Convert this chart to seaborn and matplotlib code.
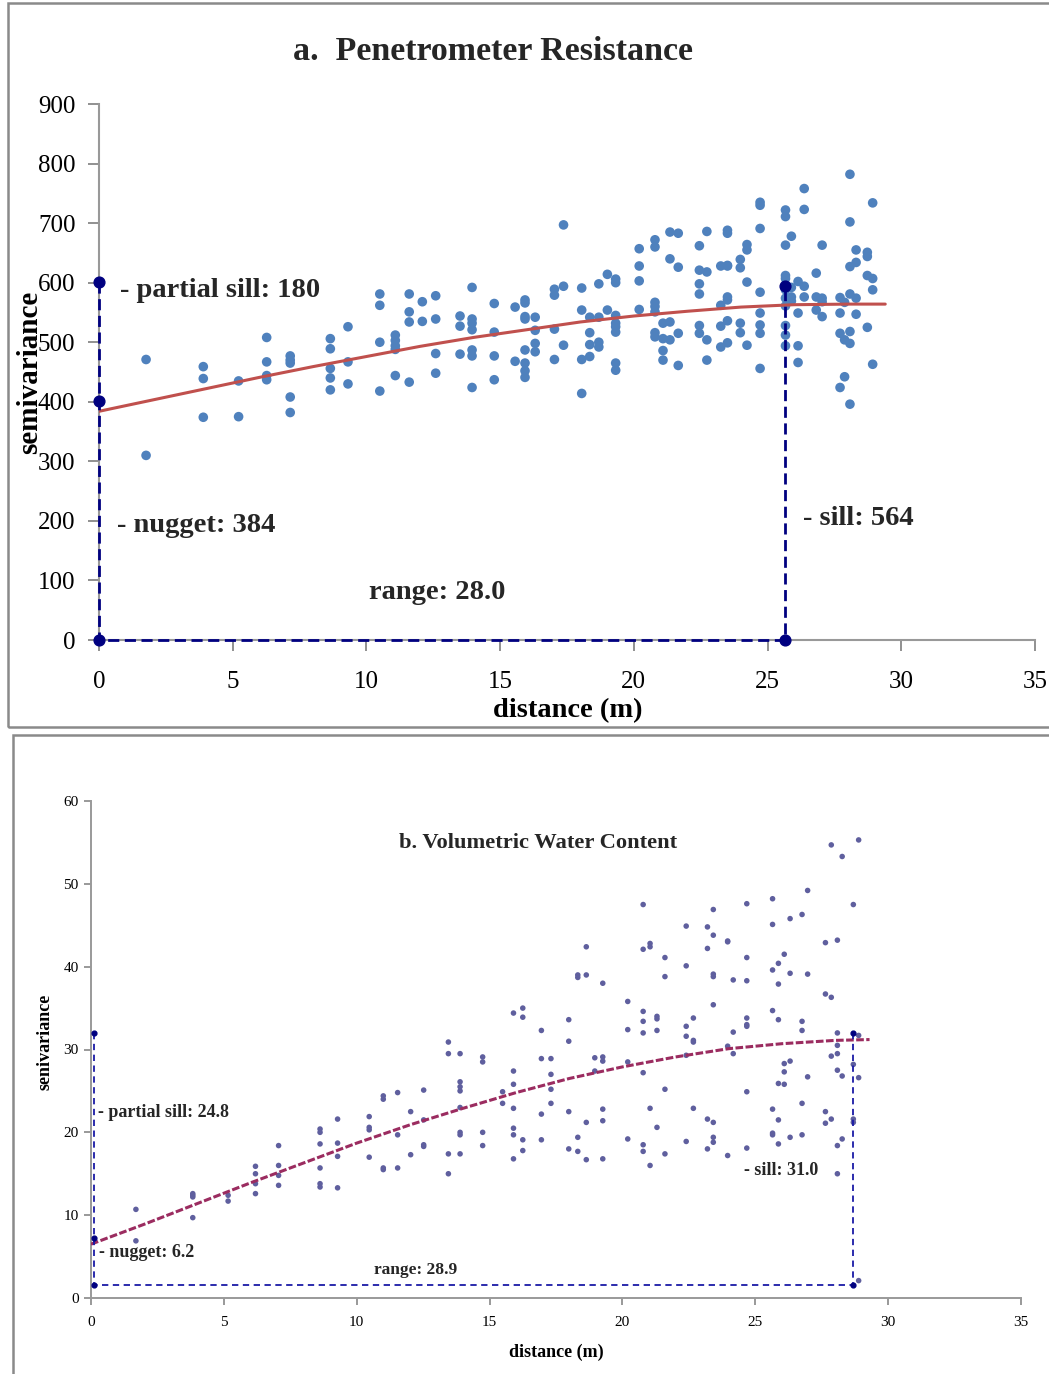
import numpy as np
import pandas as pd
import seaborn as sns
import matplotlib.pyplot as plt
from matplotlib.patches import Rectangle

# ---------------- data: panel a (penetrometer resistance) ----------------
top_lags = [1.76, 3.90, 5.22, 6.27, 7.15, 8.65, 9.31, 10.50, 11.08, 11.60, 12.09, 12.59,
            13.50, 13.95, 14.78, 15.56, 15.93, 16.31, 17.03, 17.37, 18.05, 18.35, 18.69,
            19.01, 19.32, 20.20, 20.79, 21.09, 21.35, 21.66, 22.45, 22.73, 23.25, 23.50,
            23.98, 24.23, 24.72, 25.67, 25.89, 26.14, 26.37, 26.82, 27.04, 27.71, 27.88,
            28.08, 28.31, 28.73, 28.93]
top_values = [
    [471, 310], [459, 439, 374], [435, 375], [508, 467, 444, 437],
    [477, 470, 465, 408, 382], [506, 489, 456, 440, 420], [526, 467, 430],
    [581, 562, 500, 418], [512, 503, 494, 488, 444], [581, 551, 534, 433], [568, 535],
    [578, 539, 481, 448], [544, 527, 480], [592, 539, 532, 521, 487, 477, 424],
    [565, 517, 477, 437], [559, 468], [571, 566, 543, 539, 487, 465, 452, 441],
    [542, 520, 498, 484], [589, 579, 522, 471], [697, 594, 495], [591, 554, 471, 414],
    [542, 516, 496, 476], [598, 542, 500, 492], [614, 554],
    [606, 600, 545, 532, 526, 517, 465, 453], [657, 628, 603, 555],
    [672, 660, 567, 560, 551, 516, 509], [532, 506, 486, 470], [685, 640, 534, 504],
    [683, 626, 515, 461], [662, 621, 598, 581, 528, 515], [686, 618, 504, 470],
    [628, 562, 527, 492], [688, 683, 629, 628, 576, 571, 536, 499], [639, 625, 532, 516],
    [664, 655, 601, 495], [735, 730, 691, 584, 549, 529, 515, 456],
    [722, 711, 663, 612, 607, 588, 574, 561, 528, 512, 494], [678, 592, 576, 569],
    [602, 549, 494, 466], [758, 723, 594, 576], [616, 576, 554], [663, 574, 568, 543],
    [575, 549, 515, 424], [567, 504, 442], [782, 702, 627, 581, 518, 498, 396],
    [655, 634, 574, 547], [651, 644, 612, 525], [734, 607, 588, 463]]
top_model_x = [0, 2, 4, 6, 8, 10, 12, 14, 16, 18, 20, 22, 24, 26, 28, 29.4]
top_model_y = [384, 403, 422, 441, 459, 476, 493, 508, 521, 534, 544, 552, 559, 563, 564, 564]
top_guide_x = [0, 0, 25.65, 25.65]
top_guide_y = [601, 0, 0, 594]
top_mark_x = [0, 0, 0, 25.65, 25.65]
top_mark_y = [601, 401, 0, 0, 594]

# ---------------- data: panel b (volumetric water content) ----------------
bot_lags = [1.69, 3.83, 5.16, 6.19, 7.06, 8.62, 9.28, 10.47, 11.00, 11.54, 12.03, 12.52,
            13.45, 13.89, 14.74, 15.49, 15.90, 16.25, 16.95, 17.31, 17.98, 18.32, 18.64,
            18.96, 19.26, 20.20, 20.78, 21.04, 21.30, 21.60, 22.40, 22.67, 23.20, 23.42,
            23.96, 24.17, 24.68, 25.65, 25.87, 26.09, 26.31, 26.76, 26.97, 27.64, 27.86,
            28.09, 28.27, 28.69, 28.89]
bot_values = [
    [10.7, 6.9], [12.6, 12.4, 12.2, 9.7], [12.4, 11.7], [15.9, 15.0, 13.8, 12.6],
    [18.4, 16.0, 14.8, 13.6], [20.4, 20.0, 18.6, 15.7, 13.8, 13.4], [21.6, 18.7, 17.1, 13.3],
    [21.9, 20.6, 20.3, 17.0], [24.4, 24.0, 15.7, 15.5], [24.8, 19.7, 15.7], [22.5, 17.3],
    [25.1, 21.5, 18.5, 18.3], [30.9, 29.5, 17.4, 15.0],
    [29.5, 26.1, 25.5, 25.0, 23.0, 20.0, 19.7, 17.4], [29.1, 28.5, 20.0, 18.4], [24.9, 23.5],
    [34.4, 27.4, 25.8, 22.9, 20.5, 19.7, 16.8], [35.0, 33.9, 19.1, 17.8],
    [32.3, 28.9, 22.2, 19.1], [28.9, 27.0, 25.2, 23.5], [33.6, 31.0, 22.5, 18.0],
    [39.0, 38.7, 19.4, 17.7], [42.4, 39.0, 21.2, 16.7], [29.0, 27.4],
    [38.0, 29.1, 28.6, 22.8, 21.4, 16.8], [35.8, 32.4, 28.5, 19.2],
    [47.5, 42.1, 34.6, 33.4, 32.0, 27.2, 18.5, 17.7], [42.8, 42.4, 22.9, 16.0],
    [34.0, 33.7, 32.3, 20.6], [41.1, 38.8, 25.2, 17.4], [44.9, 40.1, 32.8, 31.6, 29.3, 18.9],
    [33.8, 31.1, 30.9, 22.9], [44.8, 42.2, 21.6, 18.0],
    [46.9, 43.8, 39.1, 38.8, 35.4, 21.2, 19.4, 18.8], [43.1, 43.0, 30.4, 17.2],
    [38.4, 32.1, 29.5], [47.6, 41.1, 38.3, 33.8, 33.0, 32.8, 24.9, 18.1],
    [48.2, 45.1, 39.6, 34.7, 22.8, 19.9, 19.7], [40.4, 37.9, 33.6, 25.9, 21.5, 18.6],
    [41.5, 28.3, 27.3, 25.8], [45.8, 39.2, 28.6, 19.4], [46.3, 33.4, 32.3, 23.5, 19.7],
    [49.2, 39.1, 26.7], [42.9, 36.7, 22.5, 21.1], [54.7, 36.3, 29.2, 21.6],
    [43.2, 32.0, 30.5, 29.5, 27.5, 18.4, 15.0], [53.3, 26.8, 19.2],
    [47.5, 28.2, 21.6, 21.2], [55.3, 31.7, 26.6, 2.1]]
bot_model_x = [0, 2, 4, 6, 8, 10, 12, 14, 16, 18, 20, 22, 24, 26, 28, 29.3]
bot_model_y = [6.5, 8.9, 11.4, 13.9, 16.3, 18.7, 20.9, 22.9, 24.8, 26.5, 27.9, 29.1,
               30.1, 30.7, 31.1, 31.2]
bot_guide_x = [0.1, 0.1, 28.69, 28.69]
bot_guide_y = [32.0, 1.6, 1.6, 32.0]
bot_mark_x = [0.1, 0.1, 0.1, 28.69, 28.69]
bot_mark_y = [32.0, 7.2, 1.6, 1.6, 32.0]

x_ticks = [0, 5, 10, 15, 20, 25, 30, 35]
top_y_ticks = [0, 100, 200, 300, 400, 500, 600, 700, 800, 900]
bot_y_ticks = [0, 10, 20, 30, 40, 50, 60]


def expand(lags, values):
    rows = [(d, g) for d, vals in zip(lags, values) for g in vals]
    return pd.DataFrame(rows, columns=["distance", "gamma"])


df_top = expand(top_lags, top_values)
df_bot = expand(bot_lags, bot_values)

# ---------------- figure ----------------
sns.set_theme(style="white")
plt.rcParams['font.family'] = ['Liberation Serif', 'DejaVu Serif']

W, H = 1049, 1374
fig = plt.figure(figsize=(W / 100, H / 100), dpi=100)
fig.patch.set_facecolor('white')


def rect(x0, x1, ytop, ybot):
    return [x0 / W, 1 - ybot / H, (x1 - x0) / W, (ybot - ytop) / H]


# panel borders
fig.patches.append(Rectangle((8 / W, 1 - 727 / H), (W + 10 - 8) / W, (727 - 3) / H,
                             transform=fig.transFigure, fill=False, ec='#8a8a8a', lw=1.8))
fig.patches.append(Rectangle((13 / W, 1 - (H + 10) / H), (W + 10 - 13) / W, (H + 10 - 735) / H,
                             transform=fig.transFigure, fill=False, ec='#8a8a8a', lw=1.8))

ax1 = fig.add_axes(rect(99, 1035, 104, 640))
ax2 = fig.add_axes(rect(91, 1021, 801, 1298))

# ---------- panel a ----------
sns.scatterplot(data=df_top, x="distance", y="gamma", ax=ax1, color='#4F81BD',
                s=48, edgecolor='none', linewidth=0, zorder=3, clip_on=False)
sns.lineplot(x=top_model_x, y=top_model_y, ax=ax1, color='#C0504D', lw=2.2, zorder=4)
ax1.plot(top_guide_x, top_guide_y, color='#000080', lw=2.0, ls=(0, (4, 2)),
         zorder=5, clip_on=False)
ax1.scatter(top_mark_x, top_mark_y, color='#000080', s=60, zorder=6, clip_on=False)

ax1.set_xlim(0, 35)
ax1.set_ylim(0, 900)
ax1.set_xticks(x_ticks)
ax1.set_yticks(top_y_ticks)
ax1.tick_params(axis='x', bottom=True, direction='out', length=8, width=1.3,
                color='#888888', labelsize=18, pad=14, labelcolor='black')
ax1.tick_params(axis='y', left=True, direction='out', length=8, width=1.3,
                color='#888888', labelsize=18, pad=9, labelcolor='black')
for s in ['top', 'right']:
    ax1.spines[s].set_visible(False)
for s in ['left', 'bottom']:
    ax1.spines[s].set_color('#999999')
    ax1.spines[s].set_linewidth(1.5)
ax1.set_xlabel('distance (m)', fontsize=20.5, fontweight='bold', color='black')
ax1.xaxis.label.set_verticalalignment('center')
ax1.xaxis.set_label_coords(0.501, -0.132)
ax1.set_ylabel('semivariance', fontsize=21, fontweight='bold', color='black')
ax1.yaxis.label.set_verticalalignment('center')
ax1.yaxis.set_label_coords(-0.0737, 0.5)

fig.text(493 / W, 1 - 60 / H, 'a.  Penetrometer Resistance', ha='center', va='baseline',
         fontsize=24.5, fontweight='bold')
ax1.text(0.8, 576, '- partial sill: 180', fontsize=20.5, fontweight='bold', va='baseline', ha='left')
ax1.text(0.67, 182, '- nugget: 384', fontsize=20.5, fontweight='bold', va='baseline', ha='left')
ax1.text(10.1, 69, 'range: 28.0', fontsize=20.5, fontweight='bold', va='baseline', ha='left')
ax1.text(26.33, 193, '- sill: 564', fontsize=20.5, fontweight='bold', va='baseline', ha='left')

# ---------- panel b ----------
sns.scatterplot(data=df_bot, x="distance", y="gamma", ax=ax2, color='#5F5F9E',
                s=16, edgecolor='none', linewidth=0, zorder=3, clip_on=False)
sns.lineplot(x=bot_model_x, y=bot_model_y, ax=ax2, color='#9B2C60', lw=2.2,
             ls=(0, (2.5, 0.8)), zorder=4)
ax2.plot(bot_guide_x, bot_guide_y, color='#1A1AA6', lw=1.3, ls=(0, (3.5, 2.5)),
         zorder=5, clip_on=False)
ax2.scatter(bot_mark_x, bot_mark_y, color='#000080', s=12, zorder=6, clip_on=False)

ax2.set_xlim(0, 35)
ax2.set_ylim(0, 60)
ax2.set_xticks(x_ticks)
ax2.set_yticks(bot_y_ticks)
ax2.tick_params(axis='x', bottom=True, direction='out', length=5, width=1.2,
                color='#888888', labelsize=11, pad=8, labelcolor='black')
ax2.tick_params(axis='y', left=True, direction='out', length=5, width=1.2,
                color='#888888', labelsize=11, pad=4, labelcolor='black')
for s in ['top', 'right']:
    ax2.spines[s].set_visible(False)
for s in ['left', 'bottom']:
    ax2.spines[s].set_color('#999999')
    ax2.spines[s].set_linewidth(1.4)
ax2.set_xlabel('distance (m)', fontsize=13, fontweight='bold', color='black')
ax2.xaxis.label.set_verticalalignment('center')
ax2.xaxis.set_label_coords(0.5, -0.109)
ax2.set_ylabel('senivariance', fontsize=13, fontweight='bold', color='black')
ax2.yaxis.label.set_verticalalignment('center')
ax2.yaxis.set_label_coords(-0.0495, 0.515)

ax2.text(16.82, 54.3, 'b. Volumetric Water Content', fontsize=16.2, fontweight='bold',
         va='baseline', ha='center')
ax2.text(0.27, 21.8, '- partial sill: 24.8', fontsize=13, fontweight='bold', va='baseline', ha='left')
ax2.text(0.30, 4.9, '- nugget: 6.2', fontsize=13, fontweight='bold', va='baseline', ha='left')
ax2.text(10.65, 2.9, 'range: 28.9', fontsize=12.5, fontweight='bold', va='baseline', ha='left')
ax2.text(24.59, 14.9, '- sill: 31.0', fontsize=13, fontweight='bold', va='baseline', ha='left')

fig.savefig('out.png', dpi=100, facecolor='white')
